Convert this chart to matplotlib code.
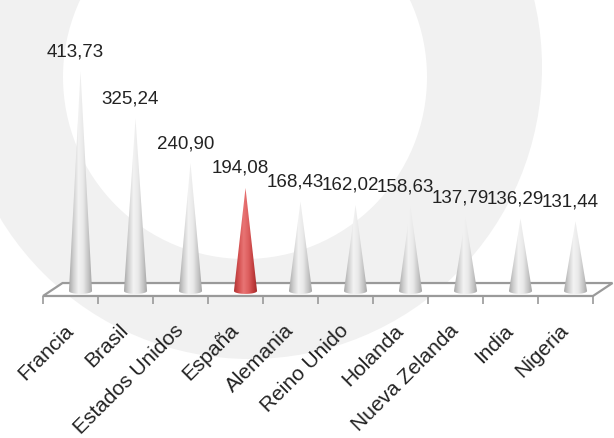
import matplotlib
matplotlib.use("Agg")
import matplotlib.pyplot as plt
import numpy as np
from matplotlib.patches import Circle, PathPatch
from matplotlib.path import Path
from matplotlib.colors import LinearSegmentedColormap

# datos
paises = ['Francia', 'Brasil', 'Estados Unidos', 'España', 'Alemania',
          'Reino Unido', 'Holanda', 'Nueva Zelanda', 'India', 'Nigeria']
valores = [413.73, 325.24, 240.90, 194.08, 168.43,
           162.02, 158.63, 137.79, 136.29, 131.44]
destacado = 'España'

plt.rcParams['font.family'] = ['Liberation Sans', 'DejaVu Sans']

fig = plt.figure(figsize=(6.14, 4.39), dpi=100)

# fondo: anillo gris claro
bg = fig.add_axes([0, 0, 1, 1])
bg.set_xlim(0, 614)
bg.set_ylim(439, 0)
bg.axis('off')
bg.add_patch(Circle((250, 68), 292, color='#f1f1f1', lw=0))
bg.add_patch(Circle((245, 78), 182, color='white', lw=0))

ax = fig.add_axes([0, 0.3235, 1, 0.6765])
ax.patch.set_alpha(0)
for s in ax.spines.values():
    s.set_visible(False)

x = np.arange(len(paises))
ymin, ymax = -9.4, 549.9
depth = 0.355      # desplazamiento de profundidad en x
back = 15          # borde trasero del suelo

# suelo 3D
x0, x1 = x[0] - 0.682, x[-1] + 0.318
ax.fill([x0, x1, x1 + depth, x0 + depth], [ymin, ymin, back, back],
        facecolor='white', edgecolor='#9a9a9a', lw=1.6, clip_on=False, zorder=1)

gris = LinearSegmentedColormap.from_list(
    'gris', ['#a8a8a8', '#d2d2d2', '#f3f3f3', '#e8e8e8', '#c6c6c6', '#9e9e9e'])
rojo = LinearSegmentedColormap.from_list(
    'rojo', ['#b03434', '#d45050', '#e87474', '#de6060', '#c23e3e', '#9a2626'])
grad = np.linspace(0, 1, 256).reshape(1, -1)

hw = 0.21     # semiancho de la base
eh = 5.5      # semieje vertical de la elipse de la base
t = np.linspace(0, np.pi, 40)
for xi, v, p in zip(x, valores, paises):
    verts = [(xi, v)] + [(xi + hw * np.cos(a), -eh * np.sin(a)) for a in t] + [(xi, v)]
    codes = [Path.MOVETO] + [Path.LINETO] * (len(verts) - 2) + [Path.CLOSEPOLY]
    patch = PathPatch(Path(verts, codes), facecolor='none', edgecolor='none')
    ax.add_patch(patch)
    im = ax.imshow(grad, cmap=rojo if p == destacado else gris, aspect='auto',
                   extent=[xi - hw, xi + hw, -eh, v], zorder=2)
    im.set_clip_path(patch)
    ax.annotate(f'{v:.2f}'.replace('.', ','), (xi, v), xytext=(-3.6, 11.5),
                textcoords='offset points', ha='center', va='baseline',
                fontsize=13.5, color='#222222')

ax.set_xlim(-1.4636, 9.70)
ax.set_ylim(ymin, ymax)
ax.set_yticks([])

ax.set_xticks(x - 0.182, labels=paises)
ax.set_xticks(np.arange(len(paises) + 1) - 0.682, minor=True)
ax.tick_params(axis='x', which='major', length=0, pad=22, labelsize=15,
               labelcolor='#222222')
ax.tick_params(axis='x', which='minor', length=5.5, width=1.2, color='#9a9a9a',
               direction='out')
for lbl in ax.get_xticklabels():
    lbl.set_rotation(45)
    lbl.set_ha('right')
    lbl.set_va('center')
    lbl.set_rotation_mode('anchor')

fig.savefig('out.png', dpi=100)
